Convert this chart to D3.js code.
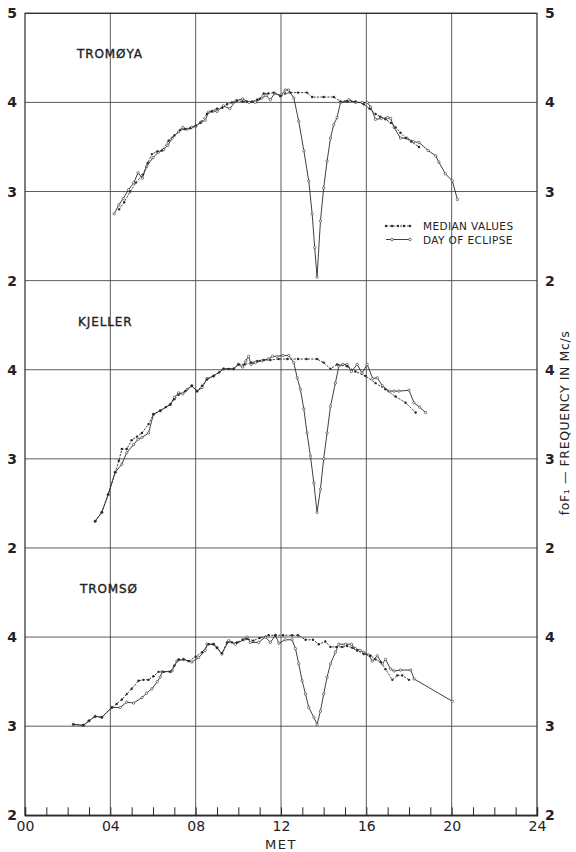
<!DOCTYPE html>
<html>
<head>
<meta charset="utf-8">
<script src="https://cdn.jsdelivr.net/npm/d3@7"></script>
<style>
  body { margin: 0; background: #fff; }
  svg { display: block; }
  text { font-family: "DejaVu Sans", sans-serif; fill: #222; }
</style>
</head>
<body>
<svg id="chart" width="576" height="852"></svg>
<script>
// hours (MET) and foF1 values, one pair per point
const stations = ["TROMØYA", "KJELLER", "TROMSØ"];

const tromoyaMedian = [[4.41,2.80],[4.65,2.88],[4.93,3.00],[5.2,3.10],[5.52,3.19],[5.75,3.32],[5.95,3.42],[6.2,3.45],[6.42,3.46],[6.73,3.57],[7.0,3.63],[7.28,3.69],[7.5,3.70],[7.75,3.71],[8.0,3.74],[8.22,3.77],[8.53,3.87],[8.75,3.90],[9.0,3.93],[9.25,3.94],[9.47,3.98],[9.7,4.00],[9.94,4.02],[10.2,4.01],[10.4,4.01],[10.65,4.01],[10.88,4.03],[11.0,4.04],[11.19,4.10],[11.4,4.10],[11.66,4.11],[11.97,4.07],[12.2,4.10],[12.44,4.11],[12.8,4.11],[13.22,4.11],[13.46,4.06],[14.0,4.06],[14.48,4.06],[14.79,4.01],[15.1,4.01],[15.49,4.01],[15.88,3.98],[16.15,3.93],[16.43,3.87],[16.65,3.84],[16.9,3.81],[17.15,3.77],[17.37,3.72],[17.6,3.66],[17.84,3.60],[18.1,3.56],[18.47,3.50]];
const tromoyaEclipse = [[4.18,2.75],[4.4,2.85],[4.6,2.92],[4.85,3.02],[5.1,3.10],[5.3,3.21],[5.5,3.15],[5.7,3.28],[6.0,3.38],[6.25,3.44],[6.5,3.47],[6.7,3.52],[6.9,3.60],[7.2,3.67],[7.4,3.72],[7.6,3.70],[7.8,3.72],[8.0,3.73],[8.25,3.78],[8.45,3.80],[8.6,3.89],[8.8,3.90],[9.0,3.90],[9.3,3.96],[9.6,3.93],[9.9,4.02],[10.2,4.04],[10.5,4.00],[10.8,4.00],[11.1,4.05],[11.3,4.08],[11.5,4.03],[11.7,4.10],[12.0,4.08],[12.2,4.14],[12.35,4.14],[12.6,4.05],[12.83,3.79],[13.07,3.46],[13.3,3.12],[13.46,2.75],[13.58,2.37],[13.69,2.04],[13.85,2.67],[14.0,3.04],[14.16,3.34],[14.32,3.60],[14.47,3.75],[14.63,3.83],[14.79,4.00],[15.0,4.01],[15.18,4.03],[15.5,4.00],[15.8,4.00],[16.04,4.00],[16.2,3.95],[16.43,3.81],[16.7,3.82],[17.0,3.83],[17.14,3.82],[17.3,3.72],[17.6,3.60],[17.9,3.60],[18.2,3.56],[18.47,3.55],[18.9,3.46],[19.25,3.40],[19.4,3.33],[19.7,3.20],[20.03,3.12],[20.27,2.91]];

const kjellerMedian = [[3.29,2.30],[3.6,2.40],[3.9,2.60],[4.23,2.85],[4.4,2.98],[4.54,3.11],[4.77,3.11],[5.0,3.21],[5.25,3.25],[5.48,3.29],[5.79,3.39],[6.02,3.50],[6.34,3.54],[6.6,3.58],[6.81,3.61],[7.0,3.67],[7.2,3.72],[7.51,3.76],[7.82,3.82],[8.06,3.76],[8.3,3.82],[8.53,3.89],[8.84,3.93],[9.1,3.97],[9.31,4.01],[9.55,4.01],[9.78,4.01],[10.01,4.06],[10.3,4.06],[10.6,4.08],[10.9,4.10],[11.2,4.11],[11.5,4.11],[11.89,4.12],[12.3,4.12],[12.8,4.12],[13.2,4.12],[13.69,4.12],[14.0,4.08],[14.32,4.01],[14.63,4.06],[15.1,4.04],[15.49,3.98],[15.96,3.93],[16.43,3.85],[16.9,3.78],[17.37,3.70],[17.84,3.63],[18.31,3.52]];
const kjellerEclipse = [[3.29,2.30],[3.6,2.40],[3.9,2.60],[4.23,2.85],[4.54,2.94],[4.77,3.07],[5.09,3.16],[5.3,3.22],[5.48,3.24],[5.79,3.29],[6.02,3.50],[6.34,3.54],[6.81,3.61],[7.0,3.69],[7.2,3.74],[7.4,3.73],[7.6,3.78],[7.82,3.82],[8.06,3.76],[8.3,3.80],[8.53,3.90],[8.84,3.93],[9.31,4.01],[9.78,4.01],[10.0,4.06],[10.2,4.03],[10.35,4.10],[10.48,4.15],[10.6,4.06],[10.8,4.08],[11.11,4.10],[11.4,4.12],[11.6,4.15],[11.81,4.15],[12.1,4.16],[12.36,4.16],[12.6,4.08],[12.76,3.91],[12.91,3.78],[13.07,3.56],[13.22,3.29],[13.38,3.03],[13.54,2.73],[13.69,2.40],[13.85,2.66],[14.0,3.00],[14.16,3.29],[14.32,3.59],[14.55,3.85],[14.71,4.04],[14.9,4.06],[15.1,4.06],[15.3,3.98],[15.57,4.06],[15.8,3.96],[16.04,4.06],[16.3,3.90],[16.51,3.91],[16.75,3.82],[17.06,3.76],[17.3,3.76],[17.53,3.76],[18.0,3.77],[18.23,3.63],[18.5,3.58],[18.78,3.52]];

const tromsoMedian = [[2.27,3.02],[2.74,3.01],[3.0,3.06],[3.29,3.11],[3.6,3.10],[4.07,3.21],[4.3,3.25],[4.54,3.30],[4.77,3.36],[5.0,3.42],[5.32,3.51],[5.55,3.52],[5.79,3.52],[6.02,3.56],[6.26,3.61],[6.5,3.61],[6.81,3.61],[7.0,3.68],[7.2,3.75],[7.43,3.75],[7.67,3.73],[8.0,3.78],[8.3,3.83],[8.61,3.92],[8.84,3.92],[9.0,3.88],[9.23,3.82],[9.47,3.94],[9.7,3.94],[9.94,3.94],[10.2,3.97],[10.41,3.98],[10.7,3.96],[11.0,3.99],[11.42,4.02],[11.74,4.02],[12.1,4.02],[12.52,4.02],[12.8,4.02],[13.15,3.97],[13.5,3.97],[13.77,3.92],[14.08,3.95],[14.32,3.89],[14.6,3.89],[14.87,3.89],[15.1,3.90],[15.34,3.88],[15.57,3.85],[15.88,3.81],[16.2,3.79],[16.43,3.75],[16.67,3.72],[16.9,3.64],[17.22,3.52],[17.45,3.57],[17.68,3.57],[18.0,3.52]];
const tromsoEclipse = [[2.27,3.02],[2.74,3.01],[3.0,3.06],[3.29,3.11],[3.6,3.10],[4.07,3.21],[4.46,3.21],[4.77,3.27],[5.09,3.26],[5.48,3.32],[5.7,3.37],[5.95,3.42],[6.2,3.50],[6.34,3.55],[6.42,3.61],[6.89,3.62],[7.12,3.73],[7.43,3.75],[7.82,3.72],[8.14,3.77],[8.45,3.85],[8.53,3.92],[8.84,3.92],[9.0,3.88],[9.23,3.81],[9.55,3.96],[9.86,3.92],[10.25,3.97],[10.41,4.00],[10.56,3.94],[10.95,3.94],[11.27,4.00],[11.5,3.94],[11.74,4.02],[11.9,3.93],[12.2,3.97],[12.52,3.97],[12.68,3.87],[12.83,3.70],[12.99,3.51],[13.15,3.36],[13.3,3.21],[13.54,3.10],[13.69,3.02],[13.85,3.17],[14.0,3.36],[14.16,3.55],[14.32,3.70],[14.55,3.83],[14.71,3.92],[15.02,3.92],[15.3,3.92],[15.49,3.87],[15.7,3.85],[15.88,3.83],[16.1,3.80],[16.28,3.73],[16.51,3.79],[16.75,3.70],[16.9,3.75],[17.14,3.64],[17.3,3.62],[17.6,3.63],[18.08,3.63],[18.24,3.53],[20.03,3.28]];

const medians = [tromoyaMedian, kjellerMedian, tromsoMedian];
const eclipses = [tromoyaEclipse, kjellerEclipse, tromsoEclipse];

const hourTicks = d3.range(0, 25);
const panelTicks = [[5, 4, 3, 2], [4, 3, 2], [4, 3, 2]];
const legendLabels = ["MEDIAN VALUES", "DAY OF ECLIPSE"];

const svg = d3.select("#chart");
const plotLeft = 25, plotRight = 537, plotTop = 13.3, plotBottom = 815.3;
const panelH = (plotBottom - plotTop) / 3;
const ink = "#2a2a2a", gridInk = "#4a4a4a";

const x = d3.scaleLinear().domain([0, 24]).range([plotLeft, plotRight]);
const yScales = stations.map((s, i) =>
  d3.scaleLinear().domain([2, 5]).range([plotTop + (i + 1) * panelH, plotTop + i * panelH]));

// vertical grid lines every 4 hours
svg.append("g").selectAll("line")
  .data([4, 8, 12, 16, 20])
  .join("line")
  .attr("x1", d => x(d)).attr("x2", d => x(d))
  .attr("y1", plotTop).attr("y2", plotBottom)
  .attr("stroke", gridInk).attr("stroke-width", 0.9);

// horizontal grid lines and value labels for each panel
stations.forEach((name, i) => {
  const y = yScales[i];
  const g = svg.append("g");
  g.selectAll("line")
    .data(panelTicks[i])
    .join("line")
    .attr("x1", plotLeft).attr("x2", plotRight)
    .attr("y1", d => y(d)).attr("y2", d => y(d))
    .attr("stroke", gridInk).attr("stroke-width", 0.9);

  const axL = svg.append("g").attr("transform", `translate(${plotLeft},0)`)
    .call(d3.axisLeft(y).tickValues(panelTicks[i]).tickSize(0).tickPadding(8).tickFormat(d3.format("d")));
  const axR = svg.append("g").attr("transform", `translate(${plotRight},0)`)
    .call(d3.axisRight(y).tickValues(panelTicks[i]).tickSize(0).tickPadding(8).tickFormat(d3.format("d")));
  [axL, axR].forEach(a => {
    a.select(".domain").remove();
    a.selectAll("text").attr("font-size", 14).attr("font-weight", "bold")
      .attr("font-family", "DejaVu Sans, sans-serif").attr("fill", "#222");
  });

  svg.append("text")
    .attr("x", [77, 78, 80][i])
    .attr("y", y(4.55) + 5)
    .attr("font-size", 12)
    .attr("stroke", "#222").attr("stroke-width", 0.35)
    .attr("letter-spacing", 0.9)
    .text(name);
});

// frame
svg.append("rect")
  .attr("x", plotLeft).attr("y", plotTop)
  .attr("width", plotRight - plotLeft).attr("height", plotBottom - plotTop)
  .attr("fill", "none").attr("stroke", ink).attr("stroke-width", 1.2);

// bottom hour axis, ticks pointing up
const xAxis = svg.append("g").attr("transform", `translate(0,${plotBottom})`)
  .call(d3.axisBottom(x).tickValues(hourTicks).tickSize(-8).tickPadding(6)
    .tickFormat(d => d % 4 === 0 ? d3.format("02d")(d) : ""));
xAxis.select(".domain").attr("stroke", ink).attr("stroke-width", 1.5);
xAxis.selectAll(".tick line").attr("stroke", ink).attr("stroke-width", 1);
xAxis.selectAll("text").attr("font-size", 14).attr("font-family", "DejaVu Sans, sans-serif").attr("fill", "#222");

svg.append("text")
  .attr("x", x(12)).attr("y", 849)
  .attr("text-anchor", "middle").attr("font-size", 13).attr("letter-spacing", 1.5)
  .text("MET");

svg.append("text")
  .attr("transform", `translate(569,${423}) rotate(-90)`)
  .attr("text-anchor", "middle").attr("font-size", 12.5).attr("letter-spacing", 0.6)
  .text("foF\u2081 \u2014 FREQUENCY  IN  Mc/s");

// series
function drawMedian(g, data, y) {
  const line = d3.line().x(d => x(d[0])).y(d => y(d[1]));
  g.append("path").datum(data)
    .attr("d", line).attr("fill", "none")
    .attr("stroke", ink).attr("stroke-width", 0.9)
    .attr("stroke-dasharray", "2.2,1.3");
  g.selectAll(null).data(data).join("circle")
    .attr("cx", d => x(d[0])).attr("cy", d => y(d[1]))
    .attr("r", 1.2).attr("fill", ink);
}
function drawEclipse(g, data, y) {
  const line = d3.line().x(d => x(d[0])).y(d => y(d[1]));
  g.append("path").datum(data)
    .attr("d", line).attr("fill", "none")
    .attr("stroke", ink).attr("stroke-width", 0.9);
  g.selectAll(null).data(data).join("circle")
    .attr("cx", d => x(d[0])).attr("cy", d => y(d[1]))
    .attr("r", 1.2).attr("fill", "#fff").attr("stroke", ink).attr("stroke-width", 0.6);
}

stations.forEach((name, i) => {
  const g = svg.append("g");
  drawEclipse(g, eclipses[i], yScales[i]);
  drawMedian(g, medians[i], yScales[i]);
});

// legend
const legend = svg.append("g").attr("transform", "translate(386,226)");
const lx = d3.scaleLinear().domain([0, 1]).range([0, 24]);
legendLabels.forEach((label, i) => {
  const row = legend.append("g").attr("transform", `translate(0,${i * 13.5})`);
  const sample = [[0, 0], [0.25, 0], [0.5, 0], [0.75, 0], [1, 0]];
  const path = row.append("path")
    .attr("d", d3.line().x(d => lx(d[0])).y(0)(sample))
    .attr("stroke", ink).attr("stroke-width", 0.9);
  if (i === 0) {
    path.attr("stroke-dasharray", "2.2,1.3");
    row.selectAll("circle").data(sample).join("circle")
      .attr("cx", d => lx(d[0])).attr("r", 1.2).attr("fill", ink);
  } else {
    row.selectAll("circle").data([sample[1], sample[4]]).join("circle")
      .attr("cx", d => lx(d[0])).attr("r", 1.3).attr("fill", "#fff")
      .attr("stroke", ink).attr("stroke-width", 0.6);
  }
  row.append("text")
    .attr("x", 37).attr("y", 4)
    .attr("font-size", 10.5).attr("letter-spacing", 0.4)
    .text(label);
});
</script>
</body>
</html>
